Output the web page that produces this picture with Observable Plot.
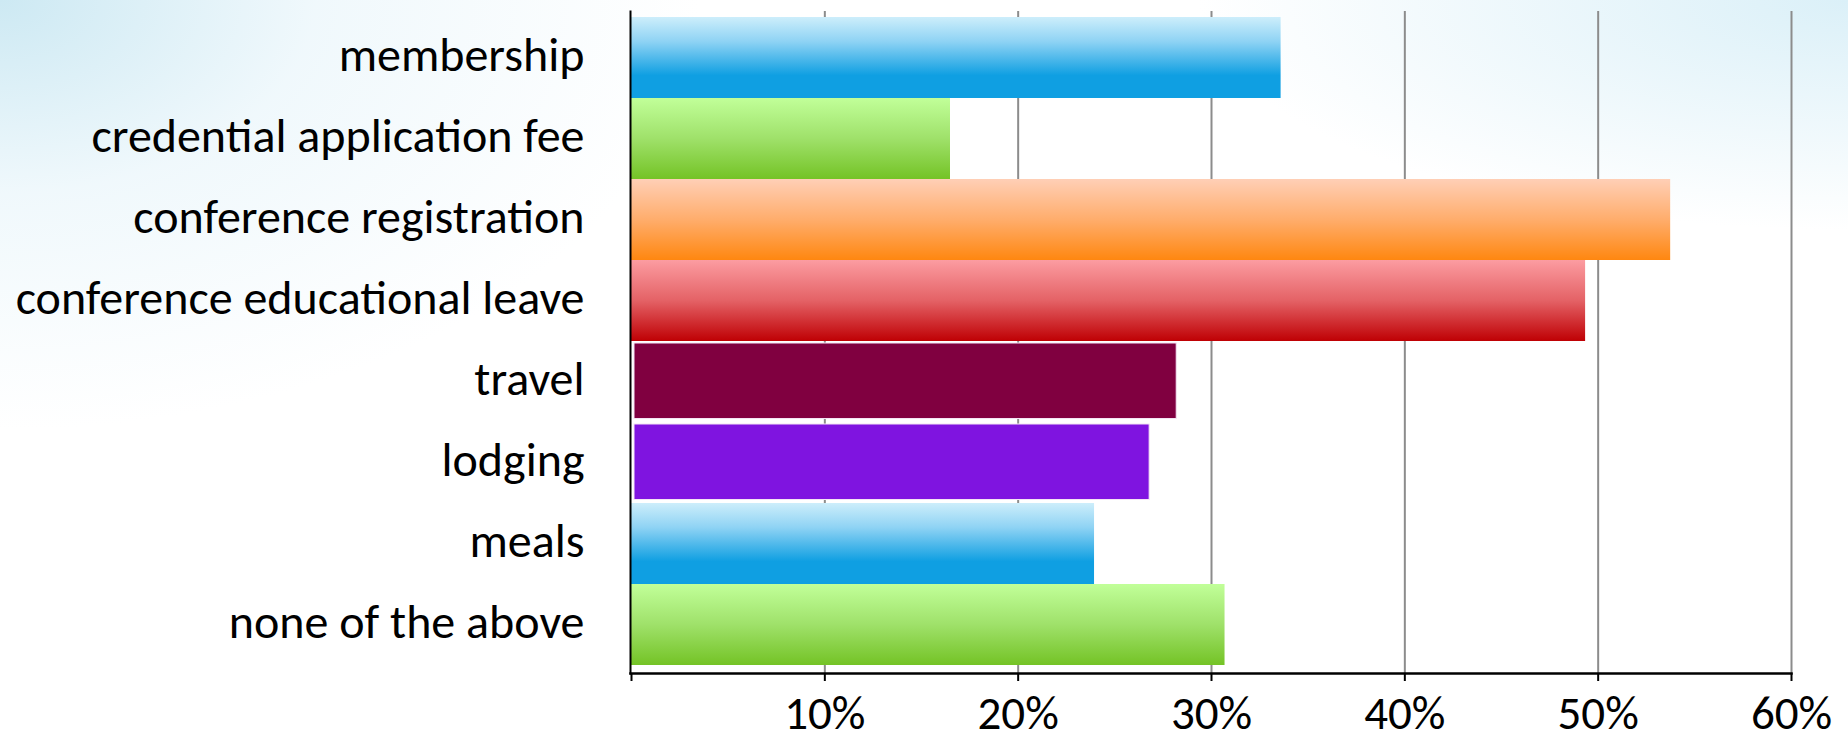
<!DOCTYPE html>
<html>
<head>
<meta charset="utf-8">
<script src="https://cdn.jsdelivr.net/npm/d3@7"></script>
<script src="https://cdn.jsdelivr.net/npm/@observablehq/plot@0.6"></script>
<style>
  html, body { margin: 0; padding: 0; }
  body {
    width: 1848px; height: 741px; overflow: hidden;
    background:
      radial-gradient(ellipse 700px 430px at 0 0, #cde9f3 0%, rgba(230,244,250,0.6) 45%, rgba(255,255,255,0) 100%),
      radial-gradient(ellipse 650px 230px at 100% 0, #dbf0f8 0%, rgba(255,255,255,0) 100%),
      #ffffff;
    font-family: Carlito, Calibri, Lato, sans-serif;
  }
  #chart svg { display: block; overflow: visible; }
</style>
</head>
<body>
<div id="chart"></div>
<script>
// ---- data ----
const categories = [
  "membership",
  "credential application fee",
  "conference registration",
  "conference educational leave",
  "travel",
  "lodging",
  "meals",
  "none of the above"
];
const values = [33.6, 16.5, 53.75, 49.35, 28.2, 26.8, 23.95, 30.7];
const tickValues = [0, 10, 20, 30, 40, 50, 60];
const tickLabels = ["", "10%", "20%", "30%", "40%", "50%", "60%"];

// ---- styles (kept apart from the data) ----
const barStyle = ["blue", "green", "orange", "red", "maroon", "purple", "blue", "green"];
const gradients = {
  blue:   [[0, "#cdeefb"], [0.3, "#8fd3f4"], [0.72, "#0f9fe2"], [1, "#0f9fe2"]],
  green:  [[0, "#c1ff99"], [0.5, "#9fe16a"], [1, "#74c326"]],
  orange: [[0, "#ffcfb6"], [0.5, "#ffad6c"], [1, "#ff8710"]],
  red:    [[0, "#fc9ca1"], [0.5, "#e46266"], [1, "#bf0004"]]
};
const solids = { maroon: "#800040", purple: "#7f14e0" };

const rows = categories.map((c, i) => ({ category: c, value: values[i], style: barStyle[i] }));

const defsMark = () => {
  const defs = d3.create("svg:defs");
  for (const [name, stops] of Object.entries(gradients)) {
    const g = defs.append("linearGradient")
      .attr("id", "grad-" + name)
      .attr("x1", 0).attr("y1", 0).attr("x2", 0).attr("y2", 1);
    for (const [o, c] of stops) g.append("stop").attr("offset", o).attr("stop-color", c);
  }
  return defs.node();
};

const gradMarks = Object.keys(gradients).map(name =>
  Plot.barX(rows.filter(d => d.style === name), {
    x1: 0, x2: "value", y: "category", fill: `url(#grad-${name})`
  })
);
const solidMarks = Object.keys(solids).map(name =>
  Plot.barX(rows.filter(d => d.style === name), {
    x1: 0, x2: "value", y: "category", fill: solids[name],
    insetLeft: 3, insetTop: 2, insetBottom: 3.5,
    stroke: "#f4e4f4", strokeWidth: 1
  })
);

const chart = Plot.plot({
  width: 1848,
  height: 741,
  marginLeft: 630,
  marginRight: 57,
  marginTop: 11,
  marginBottom: 68,
  style: { background: "transparent", fontFamily: "Carlito, Calibri, Lato, sans-serif", color: "#000" },
  x: { domain: [0, 60], range: [631, 1791] },
  y: { domain: categories, range: [15, 667], padding: 0 },
  marks: [
    defsMark,
    Plot.gridX(tickValues.slice(1), { stroke: "#8c8c8c", strokeOpacity: 1, strokeWidth: 2 }),
    ...gradMarks,
    ...solidMarks,
    Plot.frame({ anchor: "left", stroke: "#000", strokeWidth: 2 }),
    Plot.frame({ anchor: "bottom", stroke: "#000", strokeWidth: 2.5 }),
    Plot.axisX(tickValues, {
      tickSize: 8, tickPadding: 14, strokeWidth: 2, stroke: "#000",
      tickFormat: (d) => tickLabels[tickValues.indexOf(d)],
      fontSize: 47, label: null
    }),
    Plot.axisY({ tickSize: 0, tickPadding: 46, fontSize: 48, dy: -2, label: null })
  ]
});
document.getElementById("chart").appendChild(chart);
</script>
</body>
</html>
